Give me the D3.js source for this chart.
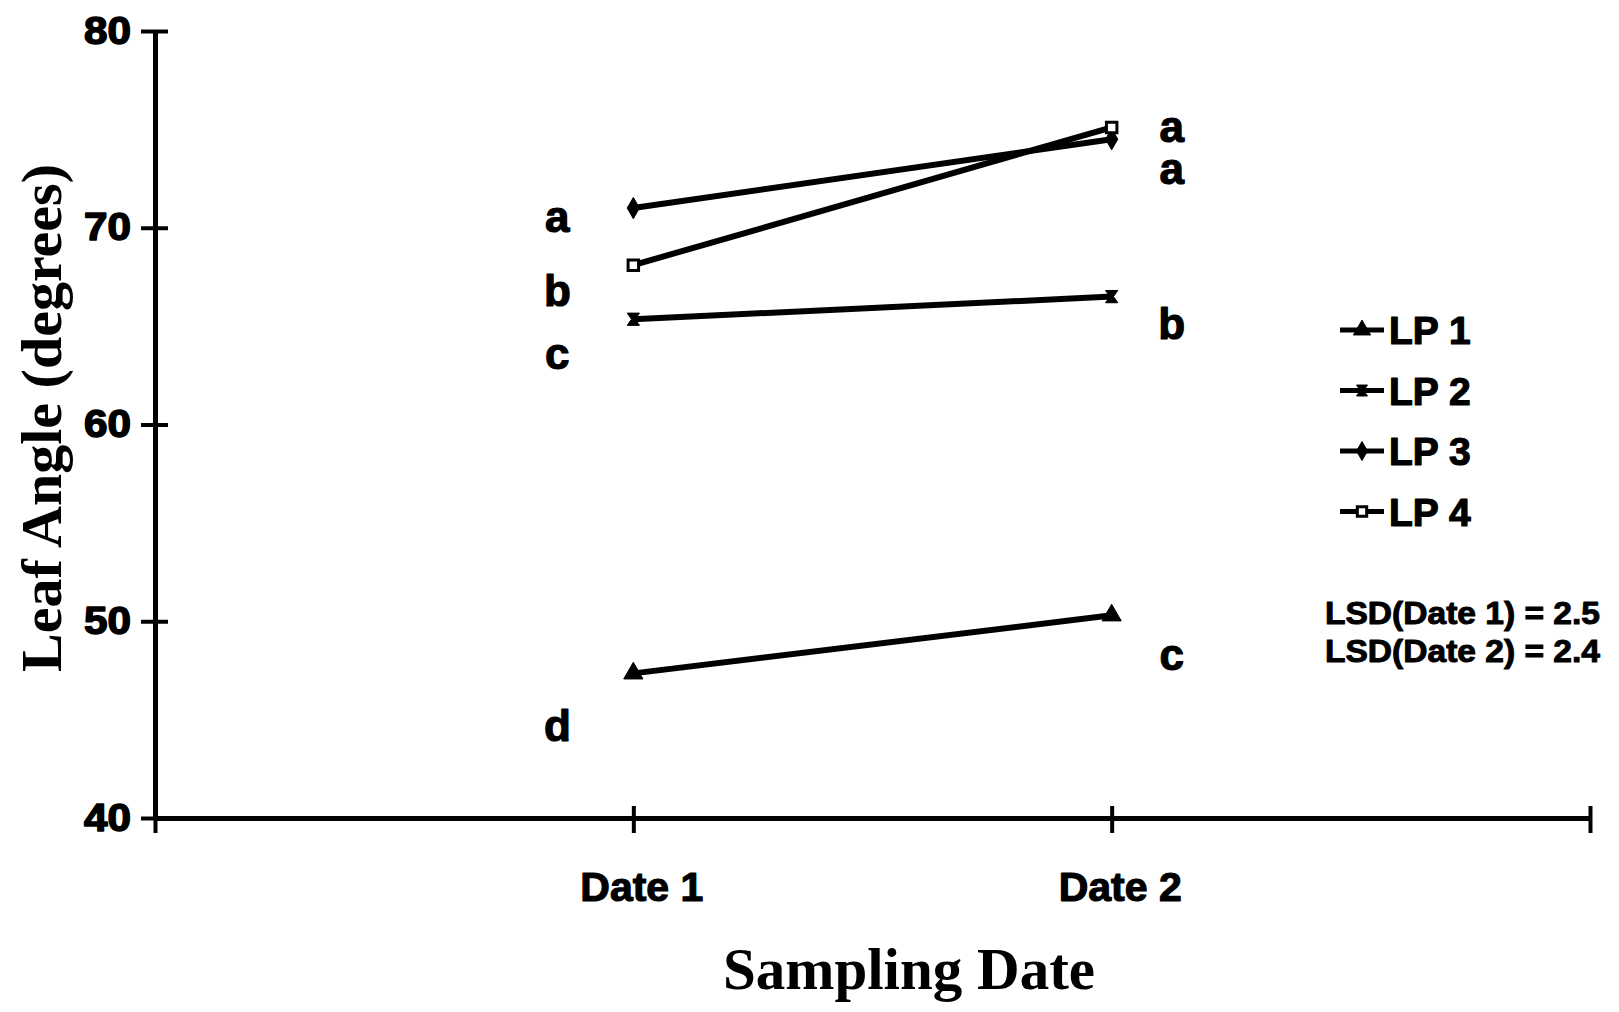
<!DOCTYPE html>
<html><head><meta charset="utf-8">
<script src="https://cdn.jsdelivr.net/npm/d3@7"></script>
<style>body{margin:0;background:#fff}</style>
</head><body><svg id="c" width="1619" height="1012"></svg>
<script>
// ---- data ----
const dates = ["Date 1", "Date 2"];
const seriesNames = ["LP 1", "LP 2", "LP 3", "LP 4"];
const lp1 = [47.35, 50.3];
const lp2 = [65.35, 66.5];
const lp3 = [71.0, 74.5];
const lp4 = [68.1, 75.1];
const yTicks = [40, 50, 60, 70, 80];
// significance letters: date index, letter, level (degrees)
const sigDate = [0, 0, 0, 0, 1, 1, 1, 1];
const sigLetter = ["a", "b", "c", "d", "a", "a", "b", "c"];
const sigLevel = [69.8, 66.0, 62.8, 43.9, 74.35, 72.2, 64.35, 47.5];
const lsdLabels = ["LSD(Date 1) = 2.5", "LSD(Date 2) = 2.4"];

const seriesValues = [lp1, lp2, lp3, lp4];

// ---- layout ----
const svg = d3.select("#c");
const x = d3.scaleLinear().domain([0, 3]).range([155, 1590]);
const y = d3.scaleLinear().domain([40, 80]).range([818, 31]);
const SANS = "'Liberation Sans', Arial, sans-serif";
const SERIF = "'Liberation Serif', 'Times New Roman', serif";

// hourglass symbol
const hourglass = {
  draw(ctx, size) {
    const r = Math.sqrt(size) / 2;
    ctx.moveTo(-r, -r); ctx.lineTo(r, -r); ctx.lineTo(r * 0.3, 0);
    ctx.lineTo(r, r); ctx.lineTo(-r, r); ctx.lineTo(-r * 0.3, 0); ctx.closePath();
  }
};
const symTypes = [d3.symbolTriangle, hourglass, d3.symbolDiamond, d3.symbolSquare];
const symSizes = [160, 150, 130, 110];
const symFill = ["#000", "#000", "#000", "#fff"];

function heavy(sel, w) {
  sel.attr("stroke", "#000").attr("stroke-width", w).attr("stroke-linejoin", "round");
}

// ---- axes ----
const yAxis = d3.axisLeft(y).tickValues(yTicks).tickSizeOuter(0).tickSizeInner(13).tickPadding(10);
const gy = svg.append("g").attr("transform", "translate(155,0)").call(yAxis);
gy.select(".domain").attr("stroke", "#000").attr("stroke-width", 5);
gy.selectAll(".tick line").attr("x1", 13).attr("x2", -14).attr("stroke", "#000").attr("stroke-width", 4);
gy.selectAll(".tick text").attr("x", -24).attr("font-family", SANS).attr("font-weight", "bold")
  .attr("font-size", 38).attr("fill", "#000").attr("textLength", 47).attr("lengthAdjust", "spacingAndGlyphs")
  .call(heavy, 1.5);

const xAxis = d3.axisBottom(x).tickValues([0, 1, 2, 3])
  .tickFormat(d => (d >= 1 && d <= 2) ? dates[d - 1] : "").tickSizeOuter(0).tickSizeInner(14).tickPadding(40);
const gx = svg.append("g").attr("transform", "translate(0,818)").call(xAxis);
gx.select(".domain").attr("stroke", "#000").attr("stroke-width", 5);
gx.selectAll(".tick line").attr("y1", -12).attr("y2", 15).attr("stroke", "#000").attr("stroke-width", 4);
gx.selectAll(".tick text").attr("dx", 8).attr("font-family", SANS).attr("font-weight", "bold")
  .attr("font-size", 41).attr("fill", "#000").call(heavy, 1.2);

// ---- series ----
const line = d3.line().x((d, i) => x(i + 1)).y(d => y(d));
seriesValues.forEach((vals, k) => {
  svg.append("path").attr("d", line(vals)).attr("fill", "none")
    .attr("stroke", "#000").attr("stroke-width", 6);
  svg.selectAll(null).data(vals).enter().append("path")
    .attr("transform", (d, i) => `translate(${x(i + 1)},${y(d)})`)
    .attr("d", d3.symbol().type(symTypes[k]).size(symSizes[k]))
    .attr("fill", symFill[k]).attr("stroke", "#000").attr("stroke-width", k === 3 ? 3 : 1);
});

// ---- significance letters ----
svg.selectAll(null).data(sigLetter).enter().append("text")
  .attr("x", (d, i) => x(sigDate[i] + 1) + (sigDate[i] === 0 ? -76 : 60))
  .attr("y", (d, i) => y(sigLevel[i]))
  .attr("text-anchor", "middle")
  .attr("font-family", SANS).attr("font-weight", "bold").attr("font-size", 44)
  .call(heavy, 1.2)
  .text(d => d);

// ---- legend ----
const lg = svg.append("g");
seriesNames.forEach((name, k) => {
  const cy = 330 + k * 60.5;
  lg.append("line").attr("x1", 1340).attr("x2", 1384).attr("y1", cy).attr("y2", cy)
    .attr("stroke", "#000").attr("stroke-width", 5);
  lg.append("path").attr("transform", `translate(1362,${cy})`)
    .attr("d", d3.symbol().type(symTypes[k]).size(symSizes[k] * 0.8))
    .attr("fill", symFill[k]).attr("stroke", "#000").attr("stroke-width", k === 3 ? 3 : 1);
  lg.append("text").attr("x", 1389).attr("y", cy + 14)
    .attr("font-family", SANS).attr("font-weight", "bold").attr("font-size", 39)
    .call(heavy, 1.2).text(name);
});

// ---- LSD ----
lsdLabels.forEach((t, i) => {
  svg.append("text").attr("x", 1325).attr("y", 624 + i * 38)
    .attr("font-family", SANS).attr("font-weight", "bold").attr("font-size", 32)
    .attr("textLength", 275).attr("lengthAdjust", "spacingAndGlyphs")
    .call(heavy, 1).text(t);
});

// ---- axis titles ----
svg.append("text").attr("transform", "translate(61,418) rotate(-90)")
  .attr("text-anchor", "middle").attr("font-family", SERIF).attr("font-weight", "bold")
  .attr("font-size", 58).text("Leaf Angle (degrees)");
svg.append("text").attr("x", 909).attr("y", 989)
  .attr("text-anchor", "middle").attr("font-family", SERIF).attr("font-weight", "bold")
  .attr("font-size", 59).text("Sampling Date");
</script></body></html>
